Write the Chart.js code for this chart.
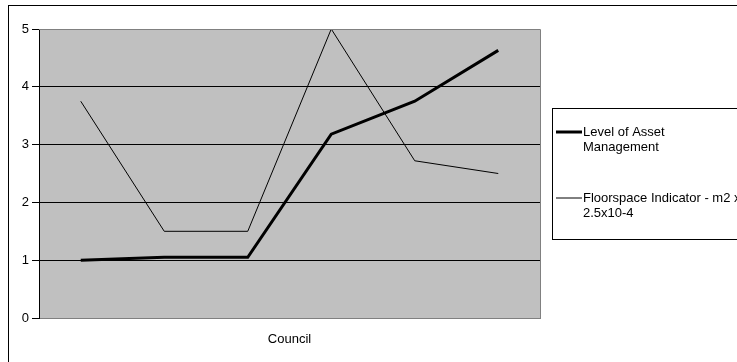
<!DOCTYPE html>
<html>
<head>
<meta charset="utf-8">
<script src="https://cdn.jsdelivr.net/npm/chart.js@4"></script>
<style>
  html, body { margin: 0; padding: 0; background: #fff; }
  #wrap { position: relative; width: 737px; height: 362px; }
</style>
</head>
<body>
<div id="wrap"><canvas id="c" width="737" height="362"></canvas></div>
<script>
// Councils along the x axis (unlabelled)
const categories = ['', '', '', '', '', ''];

// Series values
const assetManagement = [1.0, 1.05, 1.05, 3.18, 3.75, 4.63];
const floorspaceIndicator = [3.75, 1.5, 1.5, 5.0, 2.72, 2.5];

// Legend text, wrapped over two lines each
const assetLabelLines = ['Level of Asset', 'Management'];
const floorLabelLines = ['Floorspace Indicator - m2 x', '2.5x10-4'];

// Y axis ticks
const yTicks = [0, 1, 2, 3, 4, 5];

const FONT = '"Liberation Sans", Arial, sans-serif';
const FONT_SIZE = 13;

// Grey plot background, plot border and outer chart frame
const framePlugin = {
  id: 'frame',
  beforeDraw(chart) {
    const { ctx, chartArea: a } = chart;
    ctx.save();
    ctx.fillStyle = '#fff';
    ctx.fillRect(0, 0, chart.width, chart.height);
    ctx.strokeStyle = '#000';
    ctx.lineWidth = 1;
    ctx.strokeRect(8.5, 5.5, 900, 500);
    ctx.fillStyle = '#c0c0c0';
    ctx.fillRect(a.left, a.top, a.right - a.left, a.bottom - a.top);
    ctx.restore();
  },
  afterDatasetsDraw(chart) {
    const { ctx, chartArea: a } = chart;
    ctx.save();
    ctx.strokeStyle = '#808080';
    ctx.lineWidth = 1;
    ctx.beginPath();
    ctx.moveTo(a.left, a.top + 0.5);
    ctx.lineTo(a.right + 0.5, a.top + 0.5);
    ctx.lineTo(a.right + 0.5, a.bottom);
    ctx.stroke();
    ctx.restore();
  }
};

// Boxed legend to the right of the plot
const legendBoxPlugin = {
  id: 'legendBox',
  afterDraw(chart) {
    const { ctx } = chart;
    const x = 552.5, y = 108.5, w = 300, h = 131;
    ctx.save();
    ctx.fillStyle = '#fff';
    ctx.fillRect(x, y, w, h);
    ctx.strokeStyle = '#000';
    ctx.lineWidth = 1;
    ctx.strokeRect(x, y, w, h);
    ctx.font = FONT_SIZE + 'px ' + FONT;
    ctx.textBaseline = 'middle';
    ctx.fillStyle = '#000';
    const rows = [
      { lines: assetLabelLines, ds: chart.data.datasets[0], cy: 132 },
      { lines: floorLabelLines, ds: chart.data.datasets[1], cy: 198 }
    ];
    rows.forEach(r => {
      ctx.beginPath();
      ctx.lineWidth = r.ds.borderWidth;
      ctx.strokeStyle = r.ds.borderColor;
      ctx.moveTo(556, r.cy);
      ctx.lineTo(582, r.cy);
      ctx.stroke();
      r.lines.forEach((t, i) => ctx.fillText(t, 583, r.cy + i * 15.5));
    });
    ctx.restore();
  }
};

new Chart(document.getElementById('c'), {
  type: 'line',
  data: {
    labels: categories,
    datasets: [
      {
        label: assetLabelLines.join(' '),
        data: assetManagement,
        borderColor: '#000',
        borderWidth: 3,
        pointRadius: 0,
        tension: 0,
        fill: false
      },
      {
        label: floorLabelLines.join(' '),
        data: floorspaceIndicator,
        borderColor: '#000',
        borderWidth: 1,
        pointRadius: 0,
        tension: 0,
        fill: false
      }
    ]
  },
  options: {
    responsive: false,
    animation: false,
    devicePixelRatio: 1,
    layout: { padding: { left: 0, right: 197, top: 29, bottom: 0 } },
    plugins: {
      legend: { display: false },
      tooltip: { enabled: false }
    },
    scales: {
      x: {
        offset: true,
        grid: { display: false, drawTicks: false },
        border: { display: true, color: '#808080', width: 1 },
        ticks: { display: false },
        title: {
          display: true,
          text: 'Council',
          color: '#000',
          font: { family: FONT, size: 13 },
          padding: { top: 0, bottom: 14.5 }
        },
        afterFit(scale) { scale.height = 44; }
      },
      y: {
        min: 0,
        max: 5,
        afterBuildTicks(scale) { scale.ticks = yTicks.map(v => ({ value: v })); },
        grid: {
          color: ctx => (ctx.tick && (ctx.tick.value === 0 || ctx.tick.value === 5)) ? '#808080' : '#000',
          tickColor: '#000',
          lineWidth: 1,
          tickLength: 7
        },
        border: { display: true, color: '#000', width: 1 },
        ticks: {
          color: '#000',
          padding: 3,
          font: { family: FONT, size: 13 }
        },
        afterFit(scale) { scale.width = 39; }
      }
    }
  },
  plugins: [framePlugin, legendBoxPlugin]
});
</script>
</body>
</html>
